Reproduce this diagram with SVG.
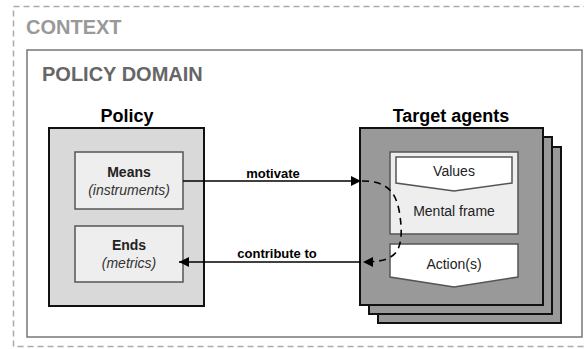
<svg xmlns="http://www.w3.org/2000/svg" width="584" height="349" viewBox="0 0 584 349">
<defs>
<style>
text{font-family:"Liberation Sans",Arial,sans-serif;}
.ttl{font-weight:bold;font-size:20px;}
.head{font-weight:bold;font-size:18px;fill:#000;text-anchor:middle;}
.inner{fill:#eeeeee;stroke:#555;stroke-width:1.5;}
.lbl{font-size:14px;fill:#222;text-anchor:middle;}
.b{font-weight:bold;}
.i{font-style:italic;fill:#333;}
.agent{fill:#999;stroke:#111;stroke-width:2;}
.tag{fill:#fff;stroke:#555;stroke-width:1.5;}
.edge{fill:none;stroke:#000;stroke-width:1.6;}
.dash{fill:none;stroke:#000;stroke-width:1.6;stroke-dasharray:7,5;}
.el{font-size:13px;font-weight:bold;fill:#000;text-anchor:middle;}
</style>
<marker id="ah2" viewBox="0 0 10 10" refX="10" refY="5" markerWidth="12" markerHeight="10" orient="auto" markerUnits="userSpaceOnUse">
<path d="M0,0 L10,5 L0,10 z" fill="#000"/>
</marker>
</defs>
<g id="context">
<rect x="13.5" y="6.5" width="600" height="340" fill="none" stroke="#aaa" stroke-width="1.5" stroke-dasharray="6,4"/>
<text x="26" y="34" class="ttl" fill="#999" font-size="19">CONTEXT</text>
</g>
<g id="policy-domain">
<rect x="27" y="50" width="555" height="287" fill="#fff" stroke="#777" stroke-width="1.5"/>
<text x="42" y="81" class="ttl" fill="#666">POLICY DOMAIN</text>
</g>
<g id="policy">
<text x="127" y="122" class="head">Policy</text>
<rect x="49" y="128" width="155" height="178" fill="#d9d9d9" stroke="#111" stroke-width="2"/>
</g>
<g id="means">
<rect x="75" y="152" width="108" height="57" class="inner"/>
<text x="129" y="177" class="lbl b">Means</text>
<text x="129" y="195" class="lbl i">(instruments)</text>
</g>
<g id="ends">
<rect x="75" y="226" width="108" height="56" class="inner"/>
<text x="129" y="250" class="lbl b">Ends</text>
<text x="129" y="268" class="lbl i">(metrics)</text>
</g>
<g id="target-agents">
<text x="451" y="122" class="head">Target agents</text>
<rect x="378" y="147" width="183" height="176" class="agent"/>
<rect x="369" y="137" width="183" height="177" class="agent"/>
<rect x="360" y="128" width="183" height="177" class="agent"/>
</g>
<g id="mental-frame">
<rect x="390" y="152" width="128" height="82" class="inner"/>
<text x="454" y="216" class="lbl" font-size="15">Mental frame</text>
</g>
<g id="values">
<path d="M396,157 H512 V183 L454,191 L396,183 Z" class="tag"/>
<text x="454" y="176" class="lbl" font-size="15">Values</text>
</g>
<g id="actions">
<path d="M390,244 H518 V277 L454,287 L390,277 Z" class="tag"/>
<text x="454" y="269" class="lbl" font-size="15">Action(s)</text>
</g>
<g id="connectors">
<path d="M183,181 H361" class="edge" marker-end="url(#ah2)"/>
<text x="273" y="178" class="el">motivate</text>
<path d="M361,262 H179" class="edge" marker-end="url(#ah2)"/>
<text x="277" y="258" class="el">contribute to</text>
<path d="M362,181 C385,181 395,190 399,210 C403,232 402,250 392,256 C385,261 375,262 363,262" class="dash" marker-end="url(#ah2)"/>
</g>
</svg>
